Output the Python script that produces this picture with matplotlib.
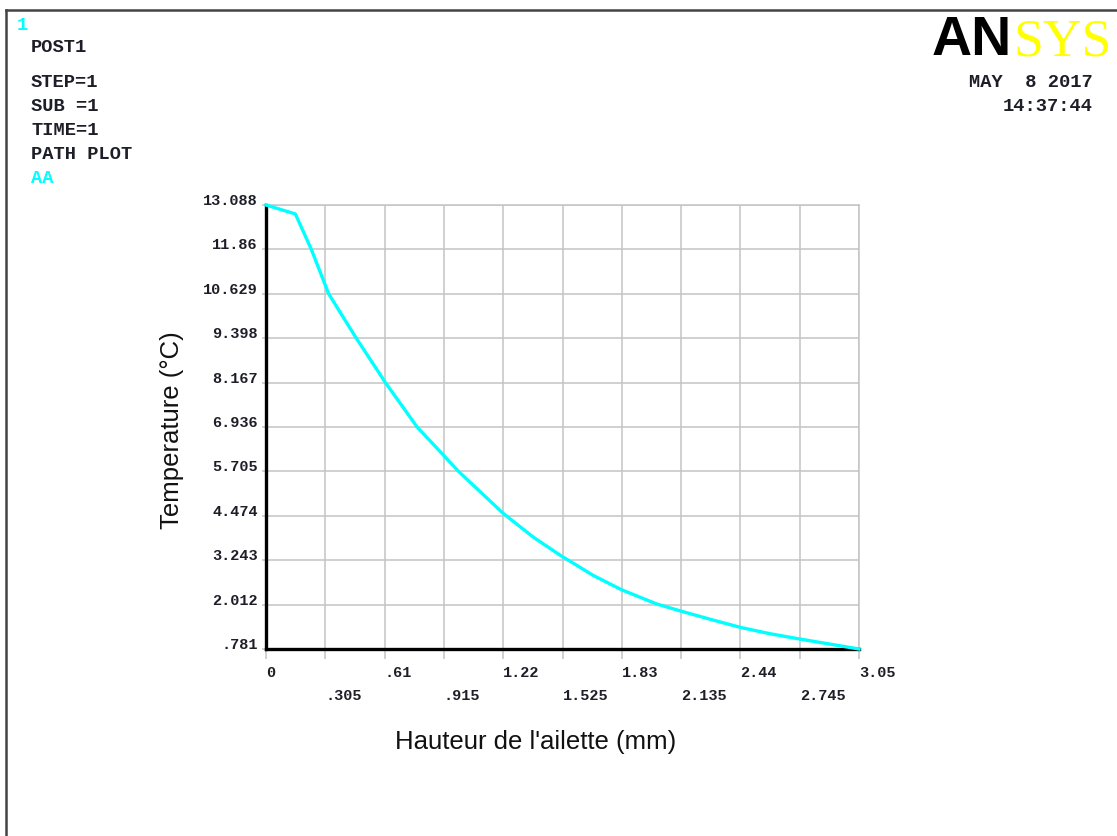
import matplotlib
matplotlib.use("Agg")
import matplotlib.pyplot as plt
from matplotlib.lines import Line2D

# ---- data ----
hauteur_mm = [0.0, 0.151, 0.233, 0.322, 0.464, 0.614, 0.777, 0.915, 0.99,
              1.22, 1.375, 1.525, 1.555, 1.683, 1.83, 2.009, 2.135, 2.292,
              2.44, 2.592, 2.745, 3.05]
temperature_c = [13.088, 12.84, 11.86, 10.629, 9.398, 8.167, 6.936, 6.14, 5.705,
                 4.54, 3.88, 3.337, 3.243, 2.82, 2.42, 2.03, 1.83, 1.594,
                 1.38, 1.205, 1.058, 0.781]

x_ticks = [0, 0.305, 0.61, 0.915, 1.22, 1.525, 1.83, 2.135, 2.44, 2.745, 3.05]
x_tick_labels = ["0", ".305", ".61", ".915", "1.22", "1.525", "1.83", "2.135",
                 "2.44", "2.745", "3.05"]
y_ticks = [0.781, 2.012, 3.243, 4.474, 5.705, 6.936, 8.167, 9.398, 10.629, 11.86, 13.088]
y_tick_labels = [".781", "2.012", "3.243", "4.474", "5.705", "6.936", "8.167",
                 "9.398", "10.629", "11.86", "13.088"]

header_lines = ["POST1", "STEP=1", "SUB =1", "TIME=1", "PATH PLOT"]
header_baselines = [52, 87, 111, 135, 159]
date_lines = ["MAY  8 2017", "14:37:44"]

W, H = 1117, 836
fig = plt.figure(figsize=(W / 100, H / 100), dpi=100)
fig.patch.set_facecolor("white")

def fx(x):
    return x / W

def fy(y):
    return 1 - y / H

mono = "Liberation Mono"
txt_col = "#1e1e28"
cyan = "#00FFFF"

# axes placement
left, right, top, bottom = 266, 859, 205, 649
ax = fig.add_axes([fx(left), fy(bottom), (right - left) / W, (bottom - top) / H])
ax.set_xlim(x_ticks[0], x_ticks[-1])
ax.set_ylim(y_ticks[0], y_ticks[-1])

ax.grid(True, color="#c4c4c4", linewidth=1.1)
ax.set_axisbelow(True)
for s in ["top", "right"]:
    ax.spines[s].set_color("#c4c4c4")
    ax.spines[s].set_linewidth(1.1)
for s in ["left", "bottom"]:
    ax.spines[s].set_color("black")
    ax.spines[s].set_linewidth(2.4)
    ax.spines[s].set_zorder(2.5)

ax.plot(hauteur_mm, temperature_c, color=cyan, linewidth=2.4, zorder=3,
        clip_on=False, solid_joinstyle="round")

# x tick labels: alternating rows, left aligned at gridline
lab = [("" if i % 2 == 0 else "\n") + t for i, t in enumerate(x_tick_labels)]
ax.set_xticks(x_ticks, lab)
ax.tick_params(axis="x", direction="out", length=7.5, width=1.1, color="#c4c4c4",
               pad=4.5, labelsize=11, labelcolor=txt_col)
for t in ax.get_xticklabels():
    t.set_fontfamily(mono)
    t.set_fontweight("bold")
    t.set_ha("left")
    t.set_va("top")
    t.set_linespacing(1.85)

ax.set_yticks(y_ticks, y_tick_labels)
ax.tick_params(axis="y", direction="out", length=3, width=1.1, color="#c4c4c4",
               pad=3, labelsize=11, labelcolor=txt_col)
for t in ax.get_yticklabels():
    t.set_fontfamily(mono)
    t.set_fontweight("bold")
    t.set_va("baseline")

# axis titles
fig.text(fx(536), fy(742), "Hauteur de l'ailette (mm)", ha="center", va="center",
         fontsize=18.5, family="Liberation Sans", color="#111111")
fig.text(fx(172), fy(430), "Temperature (°C)", ha="center", va="center",
         rotation=90, fontsize=18.5, family="Liberation Sans", color="#111111")

# header texts
fig.text(fx(17), fy(30), "1", ha="left", va="baseline", fontsize=13.5,
         family=mono, fontweight="bold", color=cyan)
for line, yb in zip(header_lines, header_baselines):
    fig.text(fx(31), fy(yb), line, ha="left", va="baseline", fontsize=13.5,
             family=mono, fontweight="bold", color=txt_col)
fig.text(fx(31), fy(183), "AA", ha="left", va="baseline", fontsize=13.5,
         family=mono, fontweight="bold", color=cyan)

# date / time
fig.text(fx(1093), fy(87), date_lines[0], ha="right", va="baseline", fontsize=13.5,
         family=mono, fontweight="bold", color=txt_col)
fig.text(fx(1093), fy(111), date_lines[1], ha="right", va="baseline", fontsize=13.5,
         family=mono, fontweight="bold", color=txt_col)

# ANSYS logo text
fig.text(fx(932), fy(55), "AN", ha="left", va="baseline", fontsize=40,
         family="Liberation Sans", fontweight="heavy", color="black")
fig.text(fx(1013), fy(55), "SYS", ha="left", va="baseline", fontsize=38.5,
         family="Liberation Serif", color="#FFFF00")

# window frame lines
fig.add_artist(Line2D([fx(6), fx(W)], [fy(9.5), fy(9.5)], color="#444444",
                      linewidth=1.8, transform=fig.transFigure))
fig.add_artist(Line2D([fx(6), fx(6)], [fy(9.5), fy(H)], color="#444444",
                      linewidth=1.8, transform=fig.transFigure))

fig.savefig("out.png", dpi=100, facecolor="white")
